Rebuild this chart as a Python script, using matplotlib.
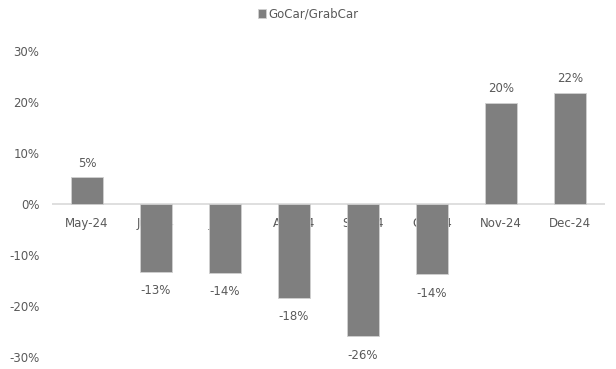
import matplotlib
matplotlib.use("Agg")
import matplotlib.pyplot as plt
from matplotlib.ticker import FuncFormatter

categories = ["May-24", "Jun-24", "Jul-24", "Aug-24", "Sep-24", "Oct-24", "Nov-24", "Dec-24"]
values = [5.2, -13.3, -13.5, -18.4, -25.9, -13.8, 19.9, 21.8]
labels = ["5%", "-13%", "-14%", "-18%", "-26%", "-14%", "20%", "22%"]
series_name = "GoCar/GrabCar"
yticks = [-30, -20, -10, 0, 10, 20, 30]

text_color = "#595959"
bar_color = "#7f7f7f"
fs = 8.5

plt.rcParams['font.family'] = ['DejaVu Sans']
fig = plt.figure(figsize=(6.16, 3.69), dpi=100)
ax = fig.add_axes([52.5/616, 1 - 357/369, (604.5 - 52.5)/616, (357 - 51)/369])

x = list(range(len(categories)))
bars = ax.bar(x, values, width=0.45, color=bar_color, edgecolor="#d0d0d0", linewidth=0.6,
              zorder=2, label=series_name)
ax.set_xlim(-0.5, len(categories) - 0.5)
ax.set_ylim(-30, 30)
ax.axhline(0, color="#d9d9d9", linewidth=1.2, zorder=1.5)

for s in ax.spines.values():
    s.set_visible(False)

ax.set_yticks(yticks)
ax.yaxis.set_major_formatter(FuncFormatter(lambda v, p: f"{int(v)}%"))
ax.tick_params(axis='y', length=0, pad=9.5, labelsize=fs, labelcolor=text_color)
ax.set_xticks([])

for i, (v, lab) in enumerate(zip(values, labels)):
    ax.annotate(categories[i], (i, 0), xytext=(0, -9), textcoords="offset points",
                ha="center", va="top", fontsize=fs, color=text_color, zorder=1)
    if v >= 0:
        ax.annotate(lab, (i, v), xytext=(0, 5.5), textcoords="offset points",
                    ha="center", va="bottom", fontsize=fs, color=text_color)
    else:
        ax.annotate(lab, (i, v), xytext=(0, -9), textcoords="offset points",
                    ha="center", va="top", fontsize=fs, color=text_color)

leg = fig.legend(handles=[bars], labels=[series_name], loc="center", bbox_to_anchor=(0.5, 1 - 14/369),
                 frameon=False, fontsize=fs, handlelength=0.7, handleheight=0.7, handletextpad=0.2,
                 labelcolor=text_color)

fig.savefig("out.png", dpi=100)
